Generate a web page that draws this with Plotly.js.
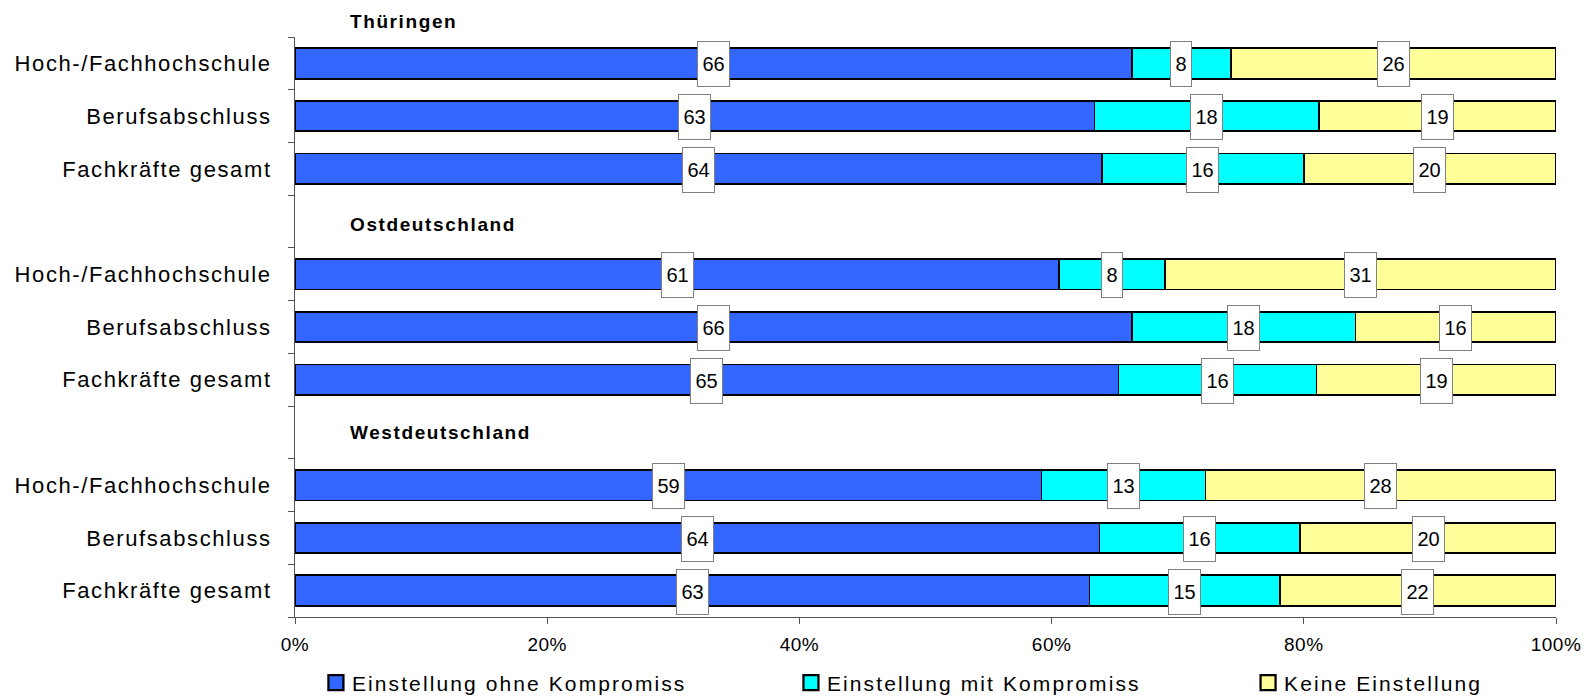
<!DOCTYPE html>
<html>
<head>
<meta charset="utf-8">
<script src="https://cdn.plot.ly/plotly-3.0.1.min.js"></script>
<style>
  html, body { margin: 0; padding: 0; background: #fff; }
  #chart { width: 1585px; height: 697px; }
  .ytick text { letter-spacing: 1.6px; }
  .legendtext { letter-spacing: 2.1px; }
  .xtick text { letter-spacing: 0.5px; }
  .annotation[data-index="0"] text,
  .annotation[data-index="1"] text,
  .annotation[data-index="2"] text { letter-spacing: 1.6px; }
</style>
</head>
<body>
<div id="chart"></div>
<script>
// ---- data ----
const groups = ['Thüringen', 'Ostdeutschland', 'Westdeutschland'];
const categories = ['Hoch-/Fachhochschule', 'Berufsabschluss', 'Fachkräfte gesamt'];
const seriesNames = ['Einstellung ohne Kompromiss', 'Einstellung mit Kompromiss', 'Keine Einstellung'];
// order: Thüringen (Hoch, Beruf, Fach), Ost (...), West (...)
const ohne  = [66.4, 63.4, 64.0, 60.6, 66.4, 65.3, 59.2, 63.8, 63.0];
const mit   = [ 7.8, 17.8, 16.0,  8.4, 17.7, 15.7, 13.0, 15.9, 15.1];
const keine = [25.8, 18.8, 20.0, 31.0, 15.9, 19.0, 27.8, 20.3, 21.9];
const xTicks = [0, 20, 40, 60, 80, 100];

// ---- structure ----
const colors = ['#3366FF', '#00FFFF', '#FFFF99'];
const nRows = groups.length * (categories.length + 1);
const yPos = [], yLabels = [], headerY = [];
groups.forEach((g, gi) => {
  const base = gi * (categories.length + 1);
  headerY.push(nRows - 1 - base);
  categories.forEach((c, ci) => {
    yPos.push(nRows - 1 - (base + 1 + ci));
    yLabels.push(c);
  });
});

const series = [ohne, mit, keine];
const legendIds = ['legend', 'legend2', 'legend3'];
const traces = series.map((vals, si) => ({
  type: 'bar',
  orientation: 'h',
  name: seriesNames[si],
  x: vals,
  y: yPos,
  width: 0.58,
  legend: legendIds[si],
  marker: { color: colors[si], line: { color: '#000', width: 1.8 } },
  hoverinfo: 'skip'
}));

const annotations = [];
const headerShift = [-11, -3, 0];
const yMin = -0.5, yMax = nRows - 1.5;
groups.forEach((g, gi) => {
  annotations.push({
    text: '<b>' + g + '</b>',
    xref: 'paper', x: 0.042, xanchor: 'left', align: 'left',
    yref: 'paper', y: (headerY[gi] - yMin) / (yMax - yMin), yshift: headerShift[gi], yanchor: 'middle',
    showarrow: false,
    font: { family: 'Liberation Sans, Arial, sans-serif', size: 19, color: '#000' }
  });
});
yPos.forEach((y, i) => {
  let start = 0;
  series.forEach((vals) => {
    const v = vals[i];
    const lbl = String(Math.round(v));
    annotations.push({
      text: lbl,
      x: start + v / 2, y: y, xref: 'x', yref: 'y',
      showarrow: false,
      bgcolor: '#fff', bordercolor: '#808080', borderwidth: 1, borderpad: 0,
      width: lbl.length * 11 + 9, height: 44, yshift: -1,
      font: { family: 'Liberation Sans, Arial, sans-serif', size: 20, color: '#000' }
    });
    start += v;
  });
});

const boundaries = [];
for (let i = 0; i <= nRows - 1; i++) boundaries.push(i - 0.5);

function legendAt(x) {
  return {
    orientation: 'h',
    xref: 'container', yref: 'container',
    x: x, xanchor: 'left',
    y: 0.02, yanchor: 'middle',
    itemwidth: 30,
    font: { size: 21, color: '#000' },
    bgcolor: 'rgba(0,0,0,0)'
  };
}

const layout = {
  width: 1585, height: 697,
  margin: { l: 295, r: 29, t: 37, b: 80 },
  paper_bgcolor: '#fff', plot_bgcolor: '#fff',
  barmode: 'stack',
  bargap: 0,
  showlegend: true,
  font: { family: 'Liberation Sans, Arial, sans-serif', color: '#000' },
  xaxis: {
    range: [0, 100],
    tickvals: xTicks,
    ticktext: xTicks.map(v => v + '%'),
    ticks: 'outside', ticklen: 6, tickcolor: '#555', tickwidth: 1,
    showline: true, linecolor: '#555', linewidth: 1,
    showgrid: false, zeroline: false,
    tickfont: { size: 19, color: '#000' },
    ticklabelstandoff: 4,
    fixedrange: true
  },
  yaxis: {
    range: [yMin, yMax],
    tickmode: 'array',
    tickvals: yPos,
    ticktext: yLabels,
    ticks: '',
    ticklabelstandoff: 18,
    showline: true, linecolor: '#555', linewidth: 1,
    showgrid: false, zeroline: false,
    tickfont: { size: 22, color: '#000' },
    minor: { tickmode: 'array', tickvals: boundaries, ticks: 'outside', ticklen: 6, tickcolor: '#555', tickwidth: 1, showgrid: false },
    fixedrange: true
  },
  legend: legendAt(0.1968),
  legend2: legendAt(0.4965),
  legend3: legendAt(0.7849),
  annotations: annotations
};

Plotly.newPlot('chart', traces, layout, { displayModeBar: false, staticPlot: true }).then(gd => {
  // legends: no clipping, letter-spaced text, square just before the text (as in the reference)
  gd.querySelectorAll('.infolayer [clip-path]').forEach(el => el.removeAttribute('clip-path'));
  gd.querySelectorAll('.infolayer g.traces').forEach(item => {
    const txt = item.querySelector('text');
    if (txt) txt.style.letterSpacing = '2.1px';
    const sym = item.querySelector('.legendpoints path');
    if (!txt || !sym) return;
    const tr = txt.getBoundingClientRect();
    const sr = sym.getBoundingClientRect();
    const dx = (tr.left - 16) - (sr.left + sr.width / 2);
    const base = sym.getAttribute('transform') || '';
    sym.setAttribute('transform', base + ' translate(' + dx.toFixed(1) + ',0) scale(1.25)');
  });
});
</script>
</body>
</html>
